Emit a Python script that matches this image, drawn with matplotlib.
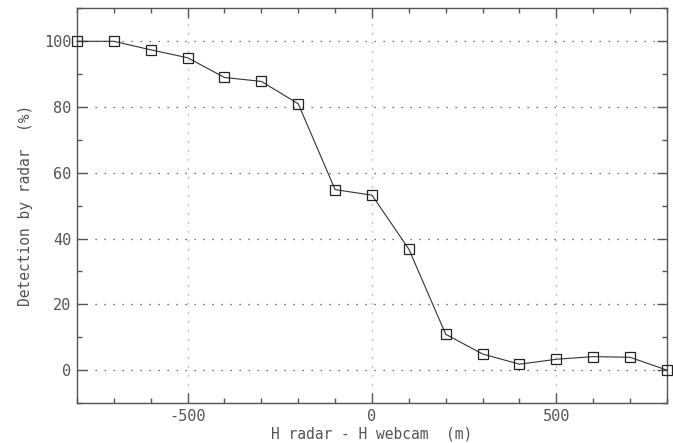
import matplotlib
matplotlib.use("Agg")
import matplotlib.pyplot as plt
from matplotlib.ticker import MultipleLocator

# height difference radar - webcam (m) and detection rate (%)
dh = [-800, -700, -600, -500, -400, -300, -200, -100, 0,
      100, 200, 300, 400, 500, 600, 700, 800]
detect = [100, 100, 97.4, 95.0, 89.0, 87.8, 81.0, 54.9, 53.2,
          36.8, 10.9, 4.9, 1.8, 3.3, 4.1, 3.9, 0.0]

plt.rcParams['font.family'] = ['DejaVu Sans Mono']
plt.rcParams['axes.unicode_minus'] = False
grey = '#555555'

fig = plt.figure(figsize=(6.73, 4.43), dpi=100)
ax = fig.add_axes([0.1144, 0.0903, 0.8766, 0.8907])

ax.plot(dh, detect, color='#333333', lw=0.8, marker='s', ms=7.5, mfc='none',
        mec='#222222', mew=0.9, zorder=4, clip_on=False)

ax.set_xlim(-800, 800)
ax.set_ylim(-10, 110)
ax.xaxis.set_major_locator(MultipleLocator(500))
ax.xaxis.set_minor_locator(MultipleLocator(100))
ax.yaxis.set_major_locator(MultipleLocator(20))
ax.yaxis.set_minor_locator(MultipleLocator(10))
ax.tick_params(which='both', direction='in', top=True, right=True,
               color=grey, labelcolor=grey, labelsize=11, width=1)
ax.tick_params(which='major', length=7.5, pad=4)
ax.tick_params(which='minor', length=3.8)
for s in ax.spines.values():
    s.set_color(grey)
    s.set_linewidth(1.0)

# dotted grid, about one dot every 9 px
ax.grid(axis='x', which='major', color='#999999', ls=(0, (1, 6.2)), lw=0.9)
ax.grid(axis='y', which='major', color='#444444', ls=(0, (1, 6.2)), lw=0.9)

ax.set_xlabel('H radar - H webcam  (m)', color=grey, fontsize=10.5, labelpad=2)
ax.set_ylabel('Detection by radar  (%)', color=grey, fontsize=10.5, labelpad=8)

fig.savefig('out.png', dpi=100)
